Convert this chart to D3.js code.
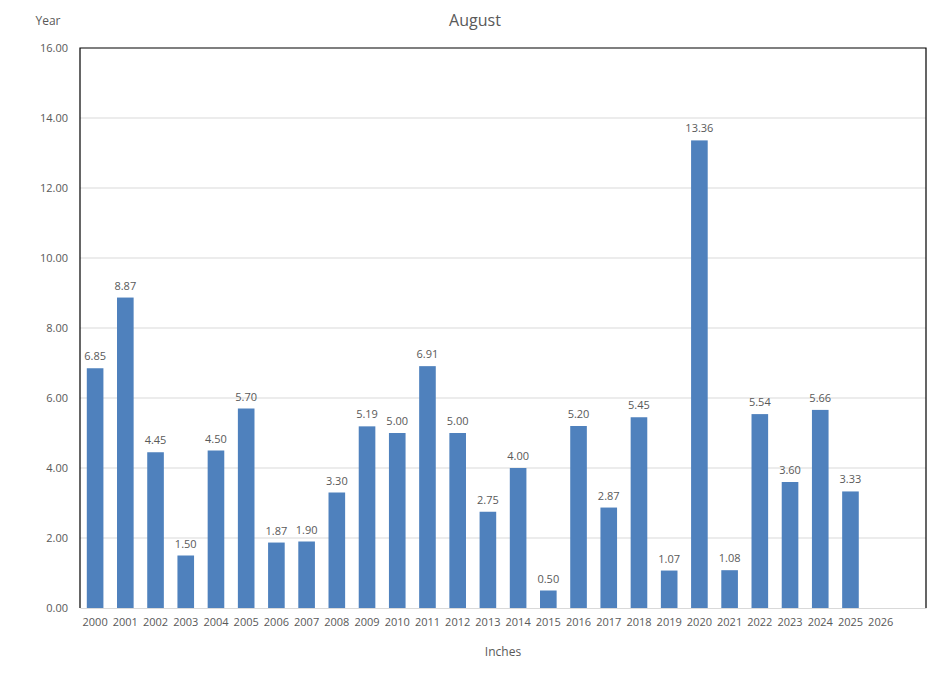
<!DOCTYPE html>
<html>
<head>
<meta charset="utf-8">
<script src="https://cdn.jsdelivr.net/npm/d3@7"></script>
<style>
  body { margin: 0; background: #fff; }
  text { font-family: "Open Sans", "Liberation Sans", sans-serif; fill: #595959; }
</style>
</head>
<body>
<div id="chart"></div>
<script>
// categories: years on the x axis (last slot is an empty category)
var years = ["2000","2001","2002","2003","2004","2005","2006","2007","2008","2009",
             "2010","2011","2012","2013","2014","2015","2016","2017","2018","2019",
             "2020","2021","2022","2023","2024","2025","2026"," "];
// August rainfall in inches
var inches = [6.85, 8.87, 4.45, 1.50, 4.50, 5.70, 1.87, 1.90, 3.30, 5.19,
              5.00, 6.91, 5.00, 2.75, 4.00, 0.50, 5.20, 2.87, 5.45, 1.07,
              13.36, 1.08, 5.54, 3.60, 5.66, 3.33, null, null];
var yTicks = [0, 2, 4, 6, 8, 10, 12, 14, 16];

var W = 941, H = 679;
var margin = {top: 48, right: 15, bottom: 71, left: 80},
    width = W - margin.left - margin.right,
    height = H - margin.top - margin.bottom;

var data = years.map(function(y, i) { return {year: y, value: inches[i]}; });

var svg = d3.select("#chart").append("svg")
    .attr("width", W).attr("height", H);

var g = svg.append("g")
    .attr("transform", `translate(${margin.left},${margin.top})`);

var x = d3.scaleBand().domain(years).range([0, width]).paddingInner(0.45).paddingOuter(0.225);
var y = d3.scaleLinear().domain([0, 16]).range([height, 0]);

// gridlines
g.selectAll(".grid").data(yTicks.filter(function(t) { return t > 0 && t < 16; }))
  .enter().append("line")
  .attr("x1", 0).attr("x2", width)
  .attr("y1", function(d) { return y(d); }).attr("y2", function(d) { return y(d); })
  .attr("stroke", "#d9d9d9").attr("stroke-width", 1);

// y axis labels
var yAxis = g.append("g")
  .call(d3.axisLeft(y).tickValues(yTicks).tickFormat(d3.format(".2f")).tickSize(0).tickPadding(12));
yAxis.select(".domain").remove();
yAxis.selectAll("text").style("font-size", "11px").attr("fill", "#595959");

// x axis
var xAxis = g.append("g")
  .attr("transform", `translate(0,${height})`)
  .call(d3.axisBottom(x).tickSize(0).tickPadding(10));
xAxis.select(".domain").attr("stroke", "#d9d9d9");
xAxis.selectAll("text").style("font-size", "11px").attr("fill", "#595959");

// bars
g.selectAll(".bar").data(data.filter(function(d) { return d.value != null; }))
  .enter().append("rect")
  .attr("class", "bar")
  .attr("x", function(d) { return x(d.year); })
  .attr("width", x.bandwidth())
  .attr("y", function(d) { return y(d.value); })
  .attr("height", function(d) { return height - y(d.value); })
  .attr("fill", "#4f81bd");

// data labels
g.selectAll(".lbl").data(data.filter(function(d) { return d.value != null; }))
  .enter().append("text")
  .attr("x", function(d) { return x(d.year) + x.bandwidth() / 2; })
  .attr("y", function(d) { return y(d.value) - 8; })
  .attr("text-anchor", "middle")
  .style("font-size", "11px")
  .attr("fill", "#404040")
  .text(function(d) { return d.value.toFixed(2); });

// plot border: left, top, right in black
g.append("path")
  .attr("d", `M0,${height}V0H${width}V${height}`)
  .attr("fill", "none").attr("stroke", "#000").attr("stroke-width", 1.2);

// titles
svg.append("text").attr("x", 475).attr("y", 26).attr("text-anchor", "middle")
  .style("font-size", "16px").text("August");
svg.append("text").attr("x", 48).attr("y", 25).attr("text-anchor", "middle")
  .style("font-size", "12px").text("Year");
svg.append("text").attr("x", 503).attr("y", 656).attr("text-anchor", "middle")
  .style("font-size", "12px").text("Inches");
</script>
</body>
</html>
